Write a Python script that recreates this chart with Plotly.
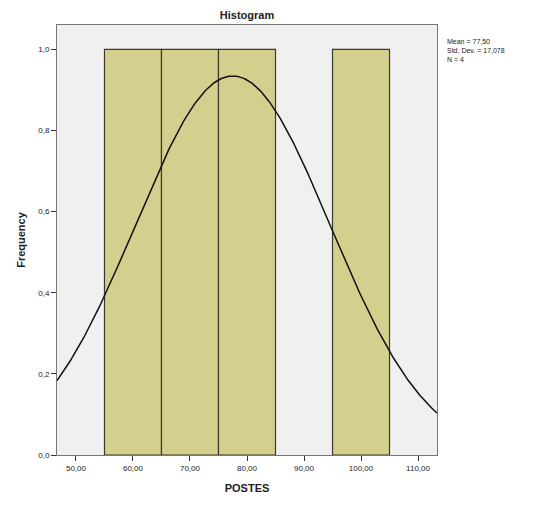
import numpy as np
import plotly.graph_objects as go

# Data
values = [60.0, 70.0, 80.0, 100.0]
bin_centers = [60.0, 70.0, 80.0, 100.0]
bin_counts = [1, 1, 1, 1]
bin_width = 10.0
x_tickvals = [50, 60, 70, 80, 90, 100, 110]
x_ticktext = ["50,00", "60,00", "70,00", "80,00", "90,00", "100,00", "110,00"]
y_tickvals = [0.0, 0.2, 0.4, 0.6, 0.8, 1.0]
y_ticktext = ["0,0", "0,2", "0,4", "0,6", "0,8", "1,0"]

mean = float(np.mean(values))
sd = float(np.std(values, ddof=1))
n = len(values)

xs = np.linspace(46.67, 113.33, 300)
ys = n * bin_width * np.exp(-0.5 * ((xs - mean) / sd) ** 2) / (sd * np.sqrt(2 * np.pi))

fig = go.Figure()
fig.add_trace(go.Bar(
    x=bin_centers, y=bin_counts, width=bin_width,
    marker=dict(color="#d5cf8e", line=dict(color="#3a3a2a", width=1.2)),
    hoverinfo="skip",
))
fig.add_trace(go.Scatter(
    x=xs, y=ys, mode="lines",
    line=dict(color="#111111", width=1.5), hoverinfo="skip",
))

# page body has an 8px default margin; compensate
W, H = 525, 498
L, R, T, B = 49, 96, 17, 51
font = "Liberation Sans, Arial, sans-serif"
fig.update_layout(
    width=W, height=H,
    margin=dict(l=L, r=R, t=T, b=B),
    paper_bgcolor="white", plot_bgcolor="#f0f0f1",
    showlegend=False,
    font=dict(family=font, color="#222"),
    title=dict(text="<b>Histogram</b>", x=(L + (W - R)) / 2 / W, xanchor="center",
               y=1 - 7 / H, yanchor="middle", font=dict(size=11, family=font)),
    xaxis=dict(range=[46.67, 113.33], tickvals=x_tickvals, ticktext=x_ticktext,
               ticks="outside", ticklen=5, tickcolor="#333", tickwidth=1,
               showgrid=False, zeroline=False, showline=True, linecolor="#777",
               linewidth=1, mirror=True, tickfont=dict(size=8), automargin=False,
               title=dict(text="<b>POSTES</b>", font=dict(size=11), standoff=12)),
    yaxis=dict(range=[0, 1.06], tickvals=y_tickvals, ticktext=y_ticktext,
               ticks="outside", ticklen=5, tickcolor="#333", tickwidth=1,
               showgrid=False, zeroline=False, showline=True, linecolor="#777",
               linewidth=1, mirror=True, tickfont=dict(size=8), automargin=False,
               title=dict(text="<b>Frequency</b>", font=dict(size=11), standoff=10)),
)
fig.add_annotation(
    xref="paper", yref="paper", x=1.02, y=0.975, xanchor="left", yanchor="top",
    showarrow=False, align="left", font=dict(size=7, family=font, color="#222"),
    text="Mean = " + f"{mean:.2f}".replace(".", ",") + "<br>" +
         "Std. Dev. = " + f"{sd:.3f}".replace(".", ",") + "<br>" + f"N = {n}",
)
fig.write_html("out.html")
